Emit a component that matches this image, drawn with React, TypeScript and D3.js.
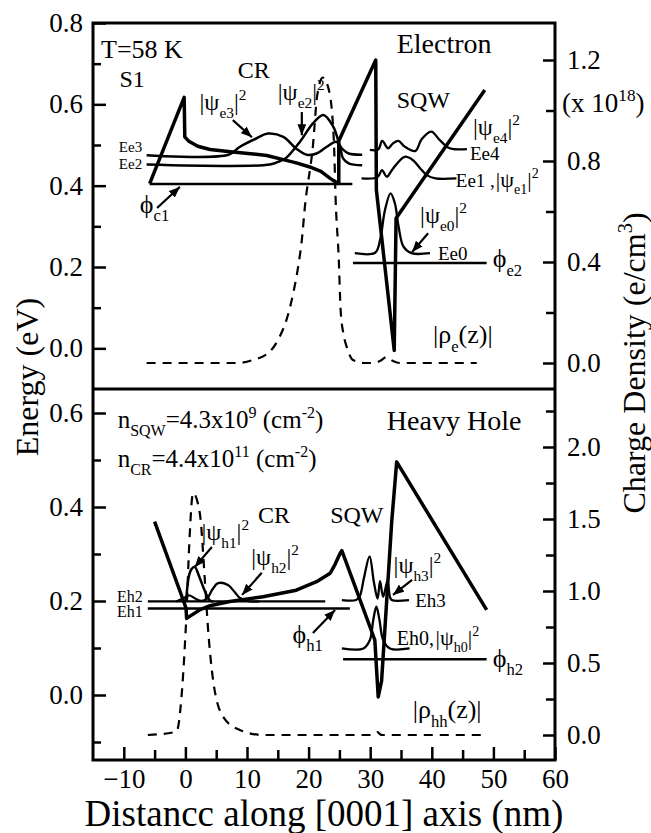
import { useEffect, useRef } from "react";
import * as d3 from "d3";

type P = [number, number];

// ---------- upper panel: electron (x in nm, y in eV; rho in 1e18 e/cm3)
const bandCRe: P[] = [[-5.8, 0.405], [-0.2, 0.617], [-0.1, 0.52], [0.5, 0.51], [2, 0.497], [4, 0.489], [7.7, 0.483], [11, 0.478], [13.2, 0.474], [15.9, 0.464], [18, 0.456], [20.2, 0.446], [22, 0.435], [23.5, 0.418], [24.9, 0.404]];
const bandSQWe: P[] = [[24.9, 0.404], [24.9, 0.51], [30.9, 0.709], [31.0, 0.39], [33.9, -0.005], [34.2, 0.32], [48.6, 0.635]];
const baseE: P[] = [[-5.8, 0.404], [27.1, 0.404]];
const psiE3: P[] = [[-6.3, 0.475], [7, 0.476], [8.8, 0.495], [11.5, 0.516], [13.4, 0.528], [15.9, 0.52], [18, 0.491], [19.7, 0.476], [21.3, 0.479], [22.9, 0.495], [24.5, 0.508], [25.5, 0.49], [26.5, 0.479], [28.7, 0.476]];
const psiE2: P[] = [[-6.3, 0.452], [13.7, 0.452], [15.3, 0.46], [16.4, 0.469], [18.6, 0.508], [20.7, 0.553], [22.4, 0.574], [24, 0.545], [25.1, 0.495], [25.6, 0.467], [26.5, 0.455], [28.7, 0.45]];
const psiE4: P[] = [[29.95, 0.488], [31.3, 0.489], [31.95, 0.51], [32.9, 0.492], [33.7, 0.504], [34.6, 0.51], [35.6, 0.496], [37.3, 0.485], [38.35, 0.514], [39.9, 0.533], [41.3, 0.512], [42.9, 0.492], [45.7, 0.49]];
const psiE1: P[] = [[28.6, 0.418], [31.2, 0.421], [31.9, 0.438], [32.7, 0.422], [33.6, 0.44], [35.6, 0.471], [37, 0.462], [38.1, 0.443], [39.2, 0.426], [40.6, 0.418], [44, 0.418]];
const psiE0: P[] = [[27.5, 0.234], [30.8, 0.235], [31.6, 0.266], [32.4, 0.34], [33.3, 0.381], [34, 0.357], [34.6, 0.3], [35.4, 0.25], [36.7, 0.234], [39.7, 0.234]];
const phiE2: P[] = [[27.2, 0.21], [48.9, 0.21]];
const rhoE: P[] = [[-6.3, 0], [8.3, 0], [11.0, 0.012], [13.7, 0.045], [15.3, 0.104], [16.4, 0.17], [17.5, 0.276], [18.3, 0.381], [18.9, 0.487], [19.4, 0.619], [20.7, 0.86], [21.4, 1.06], [22.3, 1.13], [23.3, 1.08], [24.1, 0.88], [24.4, 0.64], [24.9, 0.41], [25.2, 0.21], [25.7, 0.11], [26.2, 0.063], [27.2, 0.012], [29.1, 0], [30.5, 0], [31.6, 0.008], [32.7, 0.024], [33.7, 0.008], [34.8, 0], [47.3, 0]];

// ---------- lower panel: heavy hole
const eh2Line: P[] = [[-6.1, 0.199], [22.7, 0.199]];
const eh1Line: P[] = [[-6.1, 0.184], [26.7, 0.184]];
const bandH: P[] = [[-5.0, 0.369], [-0.3, 0.2], [0.1, 0.185], [0.2, 0.163], [1.0, 0.17], [2.3, 0.181], [4.0, 0.19], [7.2, 0.199], [12.6, 0.209], [18, 0.223], [21.3, 0.241], [23.5, 0.259], [24.3, 0.278], [25.1, 0.301], [25.4, 0.307], [30.75, 0.117], [31.3, -0.004], [31.85, 0.03], [33.5, 0.37], [34.3, 0.496], [48.9, 0.181]];
const psiH1: P[] = [[0.1, 0.199], [0.6, 0.255], [1.0, 0.268], [1.5, 0.273], [2.3, 0.25], [3.2, 0.22], [4.0, 0.201], [4.5, 0.199]];
const psiH2: P[] = [[-1.5, 0.199], [-0.3, 0.206], [0.6, 0.212], [1.5, 0.206], [2.6, 0.2], [3.5, 0.205], [4.4, 0.225], [5.3, 0.238], [6.9, 0.234], [8.0, 0.219], [8.8, 0.207], [10, 0.2], [12, 0.199]];
const psiH3: P[] = [[25.4, 0.202], [27.7, 0.202], [28.3, 0.21], [29.0, 0.25], [29.9, 0.295], [30.6, 0.24], [31.2, 0.205], [31.6, 0.242], [32.1, 0.209], [32.8, 0.242], [33.2, 0.209], [33.5, 0.202], [36.3, 0.202]];
const psiH0: P[] = [[25.4, 0.099], [28.9, 0.099], [29.95, 0.117], [30.5, 0.16], [31.0, 0.188], [31.5, 0.16], [32.1, 0.117], [33.2, 0.099], [36.4, 0.099]];
const phiH2: P[] = [[25.6, 0.076], [48.9, 0.076]];
const rhoH: P[] = [[-6.1, 0], [-1.45, 0.023], [-0.63, 0.266], [-0.1, 0.613], [0.18, 0.847], [0.6, 1.3], [1.25, 1.68], [2.34, 1.54], [3.15, 1.08], [3.69, 0.73], [4.5, 0.38], [6.12, 0.127], [8.84, 0.035], [12.6, 0], [30.5, 0], [31.2, 0.02], [31.6, 0.005], [32, 0], [48.4, 0]];

// ---------- ticks
const xTicks = [-10, 0, 10, 20, 30, 40, 50, 60];
const xMinor = [-5, 5, 15, 25, 35, 45, 55];
const eTicksTop = [0, 0.2, 0.4, 0.6, 0.8];
const eMinorTop = [0.1, 0.3, 0.5, 0.7];
const dTicksTop = [0, 0.4, 0.8, 1.2];
const dMinorTop = [0.2, 0.6, 1.0];
const eTicksBot = [0, 0.2, 0.4, 0.6];
const eMinorBot = [-0.1, 0.1, 0.3, 0.5];
const dTicksBot = [0, 0.5, 1.0, 1.5, 2.0];
const dMinorBot = [0.25, 0.75, 1.25, 1.75, 2.25];

const FONT = "Liberation Serif, Times New Roman, serif";

type Part = [string, string];

const App = () => {
  const svgRef = useRef<SVGSVGElement>(null);

  useEffect(() => {
    const width = 651;
    const height = 833;
    const left = 93, right = 555, top = 23, mid = 389, bottom = 760;

    const svg = d3.select(svgRef.current);
    svg.selectAll("*").remove();
    svg.append("rect").attr("width", width).attr("height", height).attr("fill", "white");

    const defs = svg.append("defs");
    defs.append("marker")
      .attr("id", "arr")
      .attr("viewBox", "0 0 10 8")
      .attr("refX", 10).attr("refY", 4)
      .attr("markerWidth", 11).attr("markerHeight", 9)
      .attr("markerUnits", "userSpaceOnUse")
      .attr("orient", "auto")
      .append("path").attr("d", "M0,0 L10,4 L0,8 Z").attr("fill", "black");

    const g = svg.append("g").style("font-family", FONT).attr("fill", "black");

    // scales
    const x = d3.scaleLinear().domain([-15, 60]).range([left, right]);
    const yE1 = d3.scaleLinear().domain([-0.1, 0.8]).range([mid, top]);
    const yD1 = d3.scaleLinear().domain([0, 1.2]).range([363, 60]);
    const yE2 = d3.scaleLinear().domain([0, 0.6]).range([695, 413]);
    const yD2 = d3.scaleLinear().domain([0, 2]).range([735, 447]);

    // axes helper: inward ticks
    const axis = (ax: any, tr: string, major: boolean) => {
      const a = g.append("g").attr("transform", tr).call(ax);
      a.attr("font-family", null);
      a.select(".domain").remove();
      a.selectAll("line").attr("stroke-width", 2.5);
      a.selectAll("text").style("font-family", FONT).attr("font-size", 27).attr("fill", "black");
      if (!major) a.selectAll("text").remove();
      return a;
    };
    const f1 = d3.format(".1f");

    axis(d3.axisLeft(yE1).tickValues(eTicksTop).tickSize(-13).tickPadding(10).tickFormat(f1 as any), `translate(${left},0)`, true);
    axis(d3.axisLeft(yE1).tickValues(eMinorTop).tickSize(-8), `translate(${left},0)`, false);
    axis(d3.axisRight(yD1).tickValues(dTicksTop).tickSize(-12).tickPadding(12).tickFormat(f1 as any), `translate(${right},0)`, true);
    axis(d3.axisRight(yD1).tickValues(dMinorTop).tickSize(-9), `translate(${right},0)`, false);
    axis(d3.axisLeft(yE2).tickValues(eTicksBot).tickSize(-13).tickPadding(10).tickFormat(f1 as any), `translate(${left},0)`, true);
    axis(d3.axisLeft(yE2).tickValues(eMinorBot).tickSize(-8), `translate(${left},0)`, false);
    axis(d3.axisRight(yD2).tickValues(dTicksBot).tickSize(-12).tickPadding(12).tickFormat(f1 as any), `translate(${right},0)`, true);
    axis(d3.axisRight(yD2).tickValues(dMinorBot).tickSize(-9), `translate(${right},0)`, false);
    axis(d3.axisBottom(x).tickValues(xTicks).tickSize(-13).tickPadding(9).tickFormat(d3.format("d") as any), `translate(0,${bottom})`, true);
    axis(d3.axisBottom(x).tickValues(xMinor).tickSize(-10), `translate(0,${bottom})`, false);

    // frames
    g.append("rect").attr("x", left).attr("y", top).attr("width", right - left).attr("height", bottom - top)
      .attr("fill", "none").attr("stroke", "black").attr("stroke-width", 3);
    g.append("line").attr("x1", left).attr("x2", right).attr("y1", mid).attr("y2", mid)
      .attr("stroke", "black").attr("stroke-width", 3);

    // curves
    const draw = (data: P[], ys: any, w: number, curve: any = d3.curveLinear, dash?: string) => {
      const line = d3.line<P>().x((d) => x(d[0])).y((d) => ys(d[1])).curve(curve);
      const p = g.append("path").datum(data).attr("d", line)
        .attr("fill", "none").attr("stroke", "black").attr("stroke-width", w)
        .attr("stroke-linejoin", "round");
      if (dash) p.attr("stroke-dasharray", dash);
    };
    const smooth = d3.curveCatmullRom.alpha(0.5);

    draw(rhoE, yD1, 2.2, d3.curveMonotoneX, "9,7");
    draw(baseE, yE1, 2.4);
    draw(psiE3, yE1, 2.5, smooth);
    draw(psiE2, yE1, 2.5, smooth);
    draw(bandCRe, yE1, 3.5);
    draw(bandSQWe, yE1, 3.5);
    draw(psiE4, yE1, 2.3, smooth);
    draw(psiE1, yE1, 2.3, smooth);
    draw(psiE0, yE1, 2.3, smooth);
    draw(phiE2, yE1, 2.4);

    draw(rhoH, yD2, 2.2, d3.curveMonotoneX, "9,7");
    draw(eh2Line, yE2, 2.2);
    draw(eh1Line, yE2, 2.4);
    draw(psiH2, yE2, 2.3, smooth);
    draw(psiH1, yE2, 2.5, smooth);
    draw(bandH, yE2, 3.5);
    draw(psiH3, yE2, 2.3, smooth);
    draw(psiH0, yE2, 2.3, smooth);
    draw(phiH2, yE2, 2.4);

    // arrows
    const arrow = (ys: any, x1: number, y1: number, x2: number, y2: number) =>
      g.append("line").attr("x1", x(x1)).attr("y1", ys(y1)).attr("x2", x(x2)).attr("y2", ys(y2))
        .attr("stroke", "black").attr("stroke-width", 2.2).attr("marker-end", "url(#arr)");
    arrow(yE1, 7.7, 0.561, 10.8, 0.519);
    arrow(yE1, 18.9, 0.581, 18.9, 0.524);
    arrow(yE1, -4.6, 0.345, -0.9, 0.397);
    arrow(yE1, 39.4, 0.283, 36.8, 0.237);
    arrow(yE2, 4.3, 0.315, 1.5, 0.272);
    arrow(yE2, 12.4, 0.26, 9.2, 0.213);
    arrow(yE2, 20.7, 0.132, 24.3, 0.181);
    arrow(yE2, 36.8, 0.245, 33.7, 0.213);

    // rich text helper (sub/superscripts)
    const rich = (px: number, py: number, parts: Part[], size: number, parent: any = g) => {
      const t = parent.append("text").attr("x", px).attr("y", py).attr("font-size", size);
      let off = 0;
      parts.forEach(([s, k]) => {
        const target = k === "sub" ? size * 0.33 : k === "sup" ? -size * 0.42 : 0;
        t.append("tspan").attr("dy", target - off).attr("font-size", k ? size * 0.64 : size).text(s);
        off = target;
      });
      return t;
    };
    const psi = (sub: string): Part[] => [["|ψ", ""], [sub, "sub"], ["|", ""], ["2", "sup"]];

    // upper annotations
    rich(x(-13.7), yE1(0.714), [["T=58 K", ""]], 26);
    rich(x(-10.7), yE1(0.643), [["S1", ""]], 24);
    rich(x(8.5), yE1(0.665), [["CR", ""]], 24);
    rich(x(2.3), yE1(0.586), psi("e3"), 24);
    rich(x(15), yE1(0.61), psi("e2"), 24);
    rich(x(34.3), yE1(0.726), [["Electron", ""]], 28);
    rich(x(34.3), yE1(0.59), [["SQW", ""]], 24);
    rich(x(46.7), yE1(0.524), psi("e4"), 24);
    rich(x(46.2), yE1(0.463), [["Ee4", ""]], 19);
    rich(x(43.9), yE1(0.397), [["Ee1 ,", ""]], 19);
    rich(x(50.4), yE1(0.397), psi("e1"), 22);
    rich(x(38.1), yE1(0.308), psi("e0"), 24);
    rich(x(41), yE1(0.217), [["Ee0", ""]], 19);
    rich(x(49.9), yE1(0.2), [["ϕ", ""], ["e2", "sub"]], 26);
    rich(x(40.2), yE1(0.013), [["|ρ", ""], ["e", "sub"], ["(z)|", ""]], 26);
    rich(x(-10.8), yE1(0.483), [["Ee3", ""]], 15);
    rich(x(-10.8), yE1(0.44), [["Ee2", ""]], 15);
    rich(x(-7.4), yE1(0.333), [["ϕ", ""], ["c1", "sub"]], 26);
    rich(562, 112, [["(x 10", ""], ["18", "sup"], [")", ""]], 27);

    // lower annotations
    rich(x(-11), yE2(0.568), [["n", ""], ["SQW", "sub"], ["=4.3x10", ""], ["9", "sup"], [" (cm", ""], ["-2", "sup"], [")", ""]], 25);
    rich(x(-11), yE2(0.485), [["n", ""], ["CR", "sub"], ["=4.4x10", ""], ["11", "sup"], [" (cm", ""], ["-2", "sup"], [")", ""]], 25);
    rich(x(32.7), yE2(0.564), [["Heavy Hole", ""]], 28);
    rich(x(2.6), yE2(0.33), psi("h1"), 24);
    rich(x(11.8), yE2(0.366), [["CR", ""]], 24);
    rich(x(10.7), yE2(0.277), psi("h2"), 24);
    rich(x(23.5), yE2(0.366), [["SQW", ""]], 24);
    rich(x(33.8), yE2(0.26), psi("h3"), 24);
    rich(x(37.3), yE2(0.187), [["Eh3", ""]], 19);
    rich(x(34.3), yE2(0.106), [["Eh0,", ""]], 20);
    rich(x(40.6), yE2(0.106), psi("h0"), 22);
    rich(x(49.9), yE2(0.06), [["ϕ", ""], ["h2", "sub"]], 26);
    rich(x(36.9), yE2(-0.049), [["|ρ", ""], ["hh", "sub"], ["(z)|", ""]], 26);
    rich(x(-11.1), yE2(0.198), [["Eh2", ""]], 16);
    rich(x(-11.1), yE2(0.165), [["Eh1", ""]], 16);
    rich(x(17.4), yE2(0.111), [["ϕ", ""], ["h1", "sub"]], 26);

    // axis titles
    g.append("text").attr("transform", "translate(38,377) rotate(-90)").attr("text-anchor", "middle")
      .attr("font-size", 32).text("Energy (eV)");
    const ct = g.append("g").attr("transform", "translate(645,363) rotate(-90)");
    rich(0, 0, [["Charge Density (e/cm", ""], ["3", "sup"], [")", ""]], 32, ct).attr("text-anchor", "middle");
    g.append("text").attr("x", (left + right) / 2).attr("y", 826).attr("text-anchor", "middle")
      .attr("font-size", 37).text("Distancc along [0001] axis (nm)");
  }, []);

  return (
    <svg
      ref={svgRef}
      width={651}
      height={833}
      style={{ position: "absolute", left: 0, top: 0, background: "white", fontFamily: FONT }}
    />
  );
};

export default App;
